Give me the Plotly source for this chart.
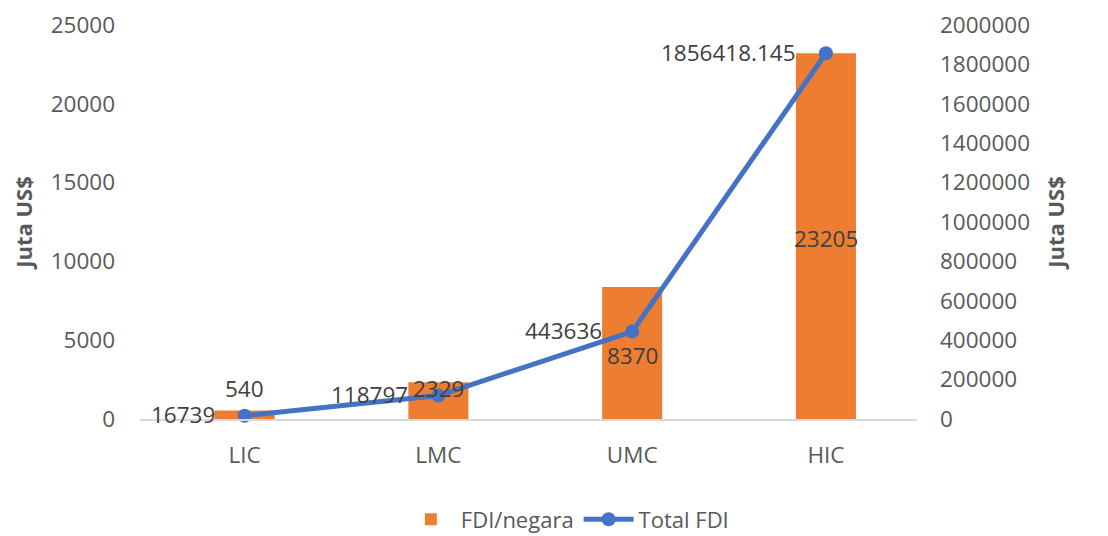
import plotly.graph_objects as go

categories = ["LIC", "LMC", "UMC", "HIC"]
fdi_per_country = [540, 2329, 8370, 23205]
total_fdi = [16739, 118797, 443636, 1856418.145]
total_fdi_labels = ["16739", "118797", "443636", "1856418.145"]

left_ticks = [0, 5000, 10000, 15000, 20000, 25000]
right_ticks = [0, 200000, 400000, 600000, 800000, 1000000, 1200000,
               1400000, 1600000, 1800000, 2000000]

FONT = "Open Sans"
ORANGE = "#ED7D31"
BLUE = "#4472C4"
TICK_COL = "#595959"
LABEL_COL = "#404040"
FS = 22.5
LFS = 22.5

fig = go.Figure()
fig.add_trace(go.Bar(
    x=categories, y=fdi_per_country, name="FDI/negara",
    marker=dict(color=ORANGE, line=dict(width=0)), width=0.31,
    yaxis="y",
))
fig.add_trace(go.Scatter(
    x=categories, y=total_fdi, name="Total FDI", yaxis="y2",
    mode="lines+markers",
    line=dict(color=BLUE, width=5),
    marker=dict(color=BLUE, size=14),
    cliponaxis=False,
))

# bar data labels (manual placement as in reference)
bar_label_shift = [22, -6, -68, -185]
for c, v, s in zip(categories, fdi_per_country, bar_label_shift):
    fig.add_annotation(x=c, y=v, xref="x", yref="y", text=str(v),
                       showarrow=False, yshift=s,
                       font=dict(family=FONT, size=LFS, color=LABEL_COL))

# line data labels, to the left of each point
for c, v, t in zip(categories, total_fdi, total_fdi_labels):
    fig.add_annotation(x=c, y=v, xref="x", yref="y2", text=t,
                       showarrow=False, xanchor="right", xshift=-28, yshift=1,
                       font=dict(family=FONT, size=LFS, color=LABEL_COL))

# page body has an 8px margin: size/margins compensate for it
fig.update_layout(
    width=1100, height=528,
    margin=dict(l=132, r=191, t=17, b=117, autoexpand=False),
    paper_bgcolor="white", plot_bgcolor="white",
    font=dict(family=FONT, size=FS, color=TICK_COL),
    showlegend=True,
    legend=dict(orientation="h", x=0.55, xanchor="center", y=-0.255,
                yanchor="middle", font=dict(family=FONT, size=22, color=TICK_COL),
                bgcolor="rgba(0,0,0,0)",
                itemwidth=50, tracegroupgap=0),
    xaxis=dict(type="category", range=[-0.54, 3.47], showgrid=False,
               showline=True, linecolor="#D9D9D9", linewidth=2,
               ticks="", ticklabelstandoff=15, automargin=False,
               tickfont=dict(family=FONT, size=FS, color=TICK_COL)),
    yaxis=dict(range=[0, 25000], tickvals=left_ticks,
               ticktext=[str(v) for v in left_ticks],
               showgrid=False, zeroline=False, showline=False, ticks="",
               ticklabelstandoff=24, automargin=False,
               tickfont=dict(family=FONT, size=FS, color=TICK_COL),
               title=dict(text="<b>Juta US$</b>", standoff=22,
                          font=dict(family=FONT, size=22, color=TICK_COL))),
    yaxis2=dict(range=[0, 2000000], tickvals=right_ticks,
                ticktext=[str(v) for v in right_ticks], overlaying="y",
                side="right", showgrid=False, zeroline=False, showline=False,
                ticks="", ticklabelstandoff=22, automargin=False,
                tickfont=dict(family=FONT, size=FS, color=TICK_COL),
                title=dict(text="<b>Juta US$</b>", standoff=19,
                           font=dict(family=FONT, size=22, color=TICK_COL))),
)

fig.write_html("out.html")
